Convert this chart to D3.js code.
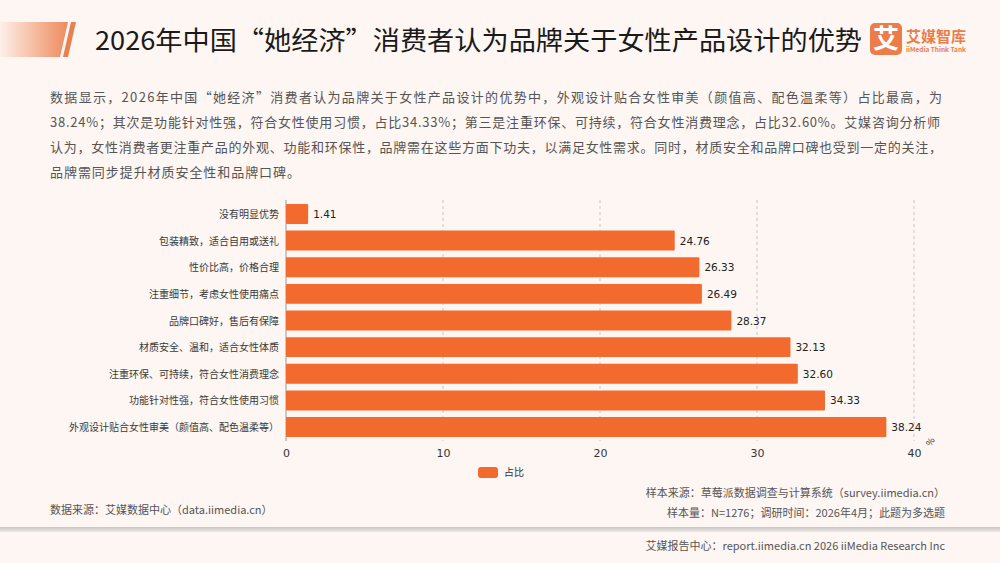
<!DOCTYPE html>
<html><head><meta charset="utf-8">
<script src="https://cdn.jsdelivr.net/npm/d3@7/dist/d3.min.js"></script>
<style>
body{margin:0;padding:0;background:#fdf6f3;}
svg{display:block;font-family:"Noto Sans CJK SC","Noto Sans",sans-serif;}
</style></head>
<body><svg id="c" width="1000" height="563"></svg>
<script>
const titleText = "2026年中国“她经济”消费者认为品牌关于女性产品设计的优势";
const descLines = [
 "数据显示，2026年中国“她经济”消费者认为品牌关于女性产品设计的优势中，外观设计贴合女性审美（颜值高、配色温柔等）占比最高，为",
 "38.24%；其次是功能针对性强，符合女性使用习惯，占比34.33%；第三是注重环保、可持续，符合女性消费理念，占比32.60%。艾媒咨询分析师",
 "认为，女性消费者更注重产品的外观、功能和环保性，品牌需在这些方面下功夫，以满足女性需求。同时，材质安全和品牌口碑也受到一定的关注，",
 "品牌需同步提升材质安全性和品牌口碑。"
];
const descWidths = [892, 890, 892, 250];
const categories = ["没有明显优势","包装精致，适合自用或送礼","性价比高，价格合理","注重细节，考虑女性使用痛点","品牌口碑好，售后有保障","材质安全、温和，适合女性体质","注重环保、可持续，符合女性消费理念","功能针对性强，符合女性使用习惯","外观设计贴合女性审美（颜值高、配色温柔等）"];
const values = [1.41,24.76,26.33,26.49,28.37,32.13,32.60,34.33,38.24];
const xTicks = [0,10,20,30,40];
const seriesName = "占比";
const unitLabel = "%";
const sourceLeft = "数据来源：艾媒数据中心（data.iimedia.cn）";
const sourceRight1 = "样本来源：草莓派数据调查与计算系统（survey.iimedia.cn）";
const sourceRight2 = "样本量：N=1276；调研时间：2026年4月；此题为多选题";
const footerText = "艾媒报告中心：report.iimedia.cn  2026 iiMedia Research Inc";

const svg = d3.select("#c");
const defs = svg.append("defs");
const g1 = defs.append("linearGradient").attr("id","tg").attr("x1","0").attr("x2","1");
g1.append("stop").attr("offset","0").attr("stop-color","#fdf0ea");
g1.append("stop").attr("offset","1").attr("stop-color","#ee8a5c");
const g2 = defs.append("linearGradient").attr("id","bg").attr("x1","0").attr("x2","0").attr("y1","0").attr("y2","1");
g2.append("stop").attr("offset","0").attr("stop-color","#c8c4c2");
g2.append("stop").attr("offset","1").attr("stop-color","#ece8e6");

svg.append("rect").attr("width",1000).attr("height",563).attr("fill","#fdf6f3");
// title decoration
svg.append("path").attr("d","M0,22 L68,22 L60,57 L0,57 Z").attr("fill","url(#tg)");
svg.append("path").attr("d","M71,22 L76,22 L68,57 L63,57 Z").attr("fill","#e9804f");
svg.append("text").attr("x",95).attr("y",50).attr("font-size",26).attr("fill","#1a1a1a")
  .attr("textLength",767).attr("lengthAdjust","spacingAndGlyphs").text(titleText);
// logo
svg.append("rect").attr("x",870).attr("y",23).attr("width",32).attr("height",32).attr("rx",5).attr("fill","#ec7d4b");
svg.append("text").attr("x",886).attr("y",48).attr("text-anchor","middle").attr("font-size",26).attr("font-weight","bold").attr("fill","#fff").text("艾");
svg.append("text").attr("x",906).attr("y",42).attr("font-size",15).attr("font-weight","bold").attr("fill","#ec7d4b").text("艾媒智库");
svg.append("text").attr("x",906).attr("y",52).attr("font-size",6.5).attr("font-weight","bold").attr("fill","#ec7d4b").text("iiMedia Think Tank");

// description
svg.append("g").selectAll("text").data(descLines).join("text")
  .attr("x",50).attr("y",(d,i)=>102+i*25).attr("font-size",13).attr("fill","#555")
  .attr("textLength",(d,i)=>descWidths[i]).attr("lengthAdjust","spacing").text(d=>d);

// chart
const x = d3.scaleLinear().domain([0,40]).range([286,914]);
const y = d3.scaleBand().domain(categories).range([200,441]).paddingInner(0.25).paddingOuter(0.15);
svg.append("g").selectAll("line").data(xTicks.slice(1)).join("line")
  .attr("x1",d=>x(d)).attr("x2",d=>x(d)).attr("y1",200).attr("y2",441)
  .attr("stroke","#bbb").attr("stroke-dasharray","3,3").attr("stroke-width",0.8);
svg.append("line").attr("x1",x(0)).attr("x2",x(0)).attr("y1",200).attr("y2",441).attr("stroke","#999").attr("stroke-width",1);
const axis = svg.append("g").attr("transform","translate(0,441)").call(d3.axisBottom(x).tickValues(xTicks).tickSize(0).tickPadding(8));
axis.select(".domain").remove();
axis.selectAll("text").attr("font-size",11).attr("fill","#333").attr("font-family","DejaVu Sans, sans-serif");
svg.append("text").attr("transform","translate(931,447) rotate(-60)").attr("font-size",9).attr("fill","#333").text(unitLabel);

svg.append("g").selectAll("rect").data(values).join("rect")
  .attr("x",x(0)).attr("y",(d,i)=>y(categories[i])).attr("width",d=>x(d)-x(0)).attr("height",y.bandwidth())
  .attr("fill","#f26a2e").attr("rx",1);
svg.append("g").selectAll("text").data(values).join("text")
  .attr("x",d=>x(d)+5).attr("y",(d,i)=>y(categories[i])+y.bandwidth()/2+4)
  .attr("font-size",10.5).attr("fill","#222").attr("font-family","DejaVu Sans, sans-serif").text(d=>d.toFixed(2));
svg.append("g").selectAll("text").data(categories).join("text")
  .attr("x",279).attr("y",d=>y(d)+y.bandwidth()/2+4).attr("text-anchor","end")
  .attr("font-size",10).attr("fill","#3a3a3a").text(d=>d);

// legend
svg.append("rect").attr("x",478).attr("y",467).attr("width",20).attr("height",11).attr("rx",3).attr("fill","#f26a2e");
svg.append("text").attr("x",504).attr("y",476).attr("font-size",10).attr("fill","#333").text(seriesName);

// sources
svg.append("text").attr("x",50).attr("y",514).attr("font-size",11).attr("fill","#555").text(sourceLeft);
svg.append("text").attr("x",945).attr("y",497).attr("text-anchor","end").attr("font-size",11).attr("fill","#555").text(sourceRight1);
svg.append("text").attr("x",945).attr("y",517).attr("text-anchor","end").attr("font-size",11).attr("fill","#555").text(sourceRight2);
svg.append("rect").attr("x",0).attr("y",527).attr("width",1000).attr("height",5).attr("fill","url(#bg)");
svg.append("text").attr("x",945).attr("y",550).attr("text-anchor","end").attr("font-size",11).attr("fill","#555").text(footerText);
</script></body></html>
